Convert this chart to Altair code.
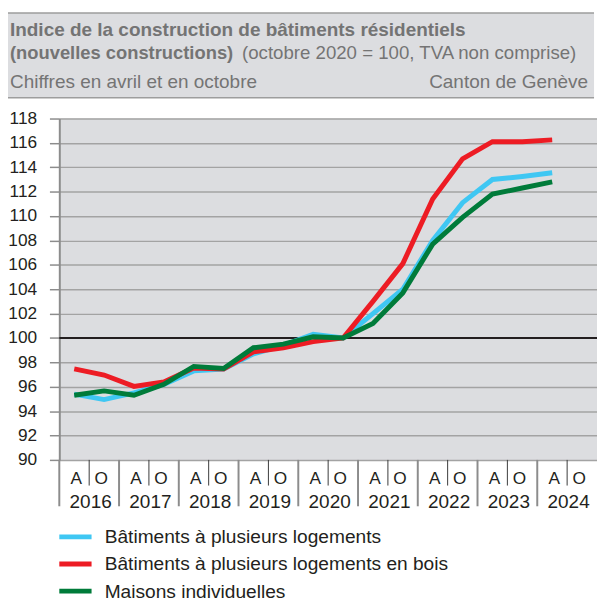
import altair as alt
import pandas as pd

# ---------------- data ----------------
years = ["2016", "2017", "2018", "2019", "2020", "2021", "2022", "2023", "2024"]
halves = ["A", "O"]
series_names = [
    "Bâtiments à plusieurs logements",
    "Bâtiments à plusieurs logements en bois",
    "Maisons individuelles",
]
colors = ["#3fc7f3", "#ed1c24", "#007b3a"]
# values from avril 2016 to avril 2024 (17 points)
blue = [95.4, 94.95, 95.5, 96.2, 97.3, 97.45, 98.7, 99.4, 100.3, 100.0,
        102.0, 104.0, 108.0, 111.1, 113.0, 113.25, 113.55]
red = [97.46, 96.96, 96.03, 96.4, 97.54, 97.46, 98.86, 99.2, 99.7, 100.0,
       103.0, 106.1, 111.4, 114.7, 116.1, 116.1, 116.25]
green = [95.3, 95.66, 95.3, 96.2, 97.67, 97.5, 99.2, 99.5, 100.1, 100.0,
         101.2, 103.7, 107.7, 109.9, 111.8, 112.3, 112.8]
y_ticks = list(range(90, 119, 2))

title_1 = "Indice de la construction de bâtiments résidentiels"
title_2_bold = "(nouvelles constructions)"
title_2_rest = "(octobre 2020 = 100, TVA non comprise)"
subtitle_left = "Chiffres en avril et en octobre"
subtitle_right = "Canton de Genève"

FONT = "Liberation Sans"
W, H = 545, 346

rows = []
for name, vals in zip(series_names, [blue, red, green]):
    for i, v in enumerate(vals):
        rows.append({"serie": name, "slot": i + 0.5, "valeur": v, "ordre": i})
df = pd.DataFrame(rows)

xs = alt.Scale(domain=[0, 2 * len(years)], nice=False, zero=False)
ys = alt.Scale(domain=[90, 118], nice=False, zero=False)
cs = alt.Scale(domain=series_names, range=colors)

yaxis = alt.Axis(
    values=y_ticks, grid=True, gridColor="#a3a3a3", gridWidth=1.5,
    domain=True, domainColor="#8c8c8c", domainWidth=2,
    ticks=True, tickColor="#8c8c8c", tickSize=10, tickWidth=1.5,
    labelFont=FONT, labelFontSize=17.5, labelColor="#231f20",
    labelPadding=13, title=None, labelOverlap=False,
)

# header band
one = pd.DataFrame({"k": [0]})
band = alt.Chart(one).mark_rect(color="#dcdde0").encode(
    x=alt.value(-52), x2=alt.value(W - 3), y=alt.value(-107), y2=alt.value(-21)
)
band_top = alt.Chart(one).mark_rule(color="#9d9d9d", strokeWidth=1.5).encode(
    x=alt.value(-52), x2=alt.value(W - 3), y=alt.value(-107)
)
band_bot = alt.Chart(one).mark_rule(color="#9d9d9d", strokeWidth=1.5).encode(
    x=alt.value(-52), x2=alt.value(W - 3), y=alt.value(-21)
)


def txt(s, x, y, size=19.2, weight="normal", align="left", color="#747474", baseline="alphabetic"):
    return alt.Chart(pd.DataFrame({"t": [s]})).mark_text(
        font=FONT, fontSize=size, fontWeight=weight, align=align,
        baseline=baseline, color=color
    ).encode(x=alt.value(x), y=alt.value(y), text="t:N")


t1 = txt(title_1, -50, -84, weight="bold")
t2a = txt(title_2_bold, -50, -60.5, size=18.6, weight="bold")
t2b = txt(title_2_rest, 524, -60.5, size=18.9, align="right")
t3a = txt(subtitle_left, -50, -30.5)
t3b = txt(subtitle_right, 536, -30.5, align="right")

# reference line 100
ref = alt.Chart(pd.DataFrame({"v": [100]})).mark_rule(color="#231f20", strokeWidth=2).encode(
    y=alt.Y("v:Q", scale=ys, axis=yaxis)
)

# data lines
lines = []
for n in series_names:
    lines.append(
        alt.Chart(df).transform_filter(alt.datum.serie == n).mark_line(
            strokeWidth=5, strokeJoin="miter", strokeCap="butt"
        ).encode(
            x=alt.X("slot:Q", scale=xs, axis=None),
            y=alt.Y("valeur:Q", scale=ys, axis=yaxis),
            color=alt.Color("serie:N", scale=cs, legend=None),
            order="ordre:Q",
        )
    )

# x axis: separators and labels
sep_year = pd.DataFrame({"pos": [2 * i for i in range(len(years))]})
sep_half = pd.DataFrame({"pos": [2 * i + 1 for i in range(len(years))]})
r_year = alt.Chart(sep_year).mark_rule(color="#8c8c8c", strokeWidth=2).encode(
    x=alt.X("pos:Q", scale=xs, axis=None), y=alt.value(H), y2=alt.value(H + 47)
)
r_half = alt.Chart(sep_half).mark_rule(color="#3a3a3a", strokeWidth=1).encode(
    x=alt.X("pos:Q", scale=xs, axis=None), y=alt.value(H), y2=alt.value(H + 26)
)
hl = pd.DataFrame({
    "pos": [2 * i + j + 0.5 for i in range(len(years)) for j in range(2)],
    "lab": [h for _ in years for h in halves],
})
lab_a = alt.Chart(hl[hl.lab == "A"]).mark_text(
    font=FONT, fontSize=17.5, color="#231f20", baseline="alphabetic", dx=2
).encode(x=alt.X("pos:Q", scale=xs, axis=None), y=alt.value(H + 24.7), text="lab:N")
lab_o = alt.Chart(hl[hl.lab == "O"]).mark_text(
    font=FONT, fontSize=17.5, color="#231f20", baseline="alphabetic", dx=-3
).encode(x=alt.X("pos:Q", scale=xs, axis=None), y=alt.value(H + 24.7), text="lab:N")
yl = pd.DataFrame({"pos": [2 * i + 1 for i in range(len(years))], "lab": years})
lab_y = alt.Chart(yl).mark_text(
    font=FONT, fontSize=19.2, color="#231f20", baseline="alphabetic", dx=1.5
).encode(x=alt.X("pos:Q", scale=xs, axis=None), y=alt.value(H + 49), text="lab:N")

# legend
legend_layers = []
for k, (n, c) in enumerate(zip(series_names, colors)):
    yy = 424 + 27.5 * k
    legend_layers.append(
        alt.Chart(one).mark_rule(color=c, strokeWidth=5).encode(
            x=alt.value(0), x2=alt.value(32.7), y=alt.value(yy)
        )
    )
    legend_layers.append(txt(n, 46, yy + 0.5, size=19.4, color="#231f20", baseline="middle"))

chart = alt.layer(
    band, band_top, band_bot, t1, t2a, t2b, t3a, t3b,
    ref, *lines, r_year, r_half, lab_a, lab_o, lab_y, *legend_layers
).properties(
    width=W, height=H,
    autosize=alt.AutoSizeParams(type="none"),
    padding={"left": 52, "top": 108, "right": 0, "bottom": 141},
    background="white",
).configure_view(fill="#dcdde0", strokeWidth=0)

chart.save("out.html", embed_options={"renderer": "svg", "actions": False})
